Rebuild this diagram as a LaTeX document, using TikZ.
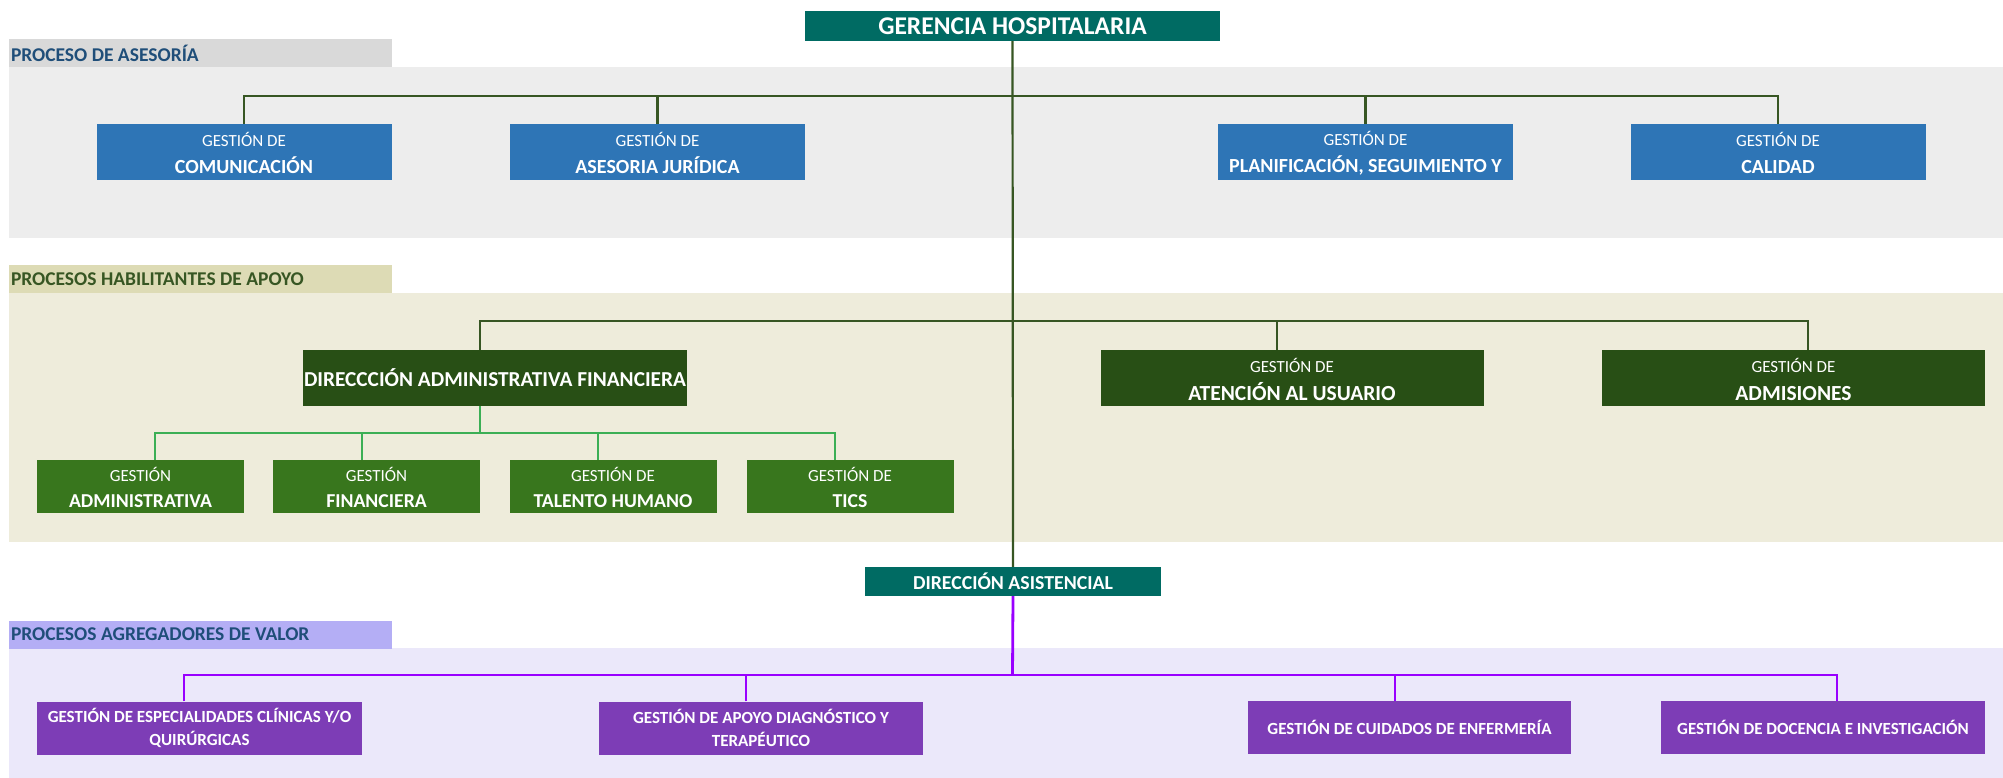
\documentclass[tikz,border=0pt]{standalone}
\usepackage{fontspec}
\setmainfont{Carlito}
\definecolor{tealB}{HTML}{006B63}
\definecolor{blueB}{HTML}{2E75B6}
\definecolor{dgreen}{HTML}{284F15}
\definecolor{mgreen}{HTML}{38761D}
\definecolor{lgline}{HTML}{3BAF55}
\definecolor{trunkC}{HTML}{375623}
\definecolor{violetL}{HTML}{9900FF}
\definecolor{purpB}{HTML}{7D3DB6}
\definecolor{hdrA}{HTML}{D9D9D9}
\definecolor{areaA}{HTML}{EDEDED}
\definecolor{hdrB}{HTML}{DDDBB5}
\definecolor{areaB}{HTML}{EEECDB}
\definecolor{hdrC}{HTML}{B4AEF5}
\definecolor{areaC}{HTML}{EBE8FA}
\definecolor{txtA}{HTML}{1F4E79}
\definecolor{txtB}{HTML}{375623}
\newcommand\twoline[3][20]{\makebox[0pt]{\rule{0pt}{17pt}#2}\\\makebox[0pt]{\fontsize{#1}{#1}\selectfont\bfseries #3}}
\newcommand\purptwo[2]{\makebox[0pt]{#1}\\\makebox[0pt]{#2}}
\tikzset{
  box/.style={rectangle, inner sep=0pt, text=white, align=center},
  gbox/.style={box, font=\fontsize{17}{27}\selectfont},
  bluebox/.style={gbox, fill=blueB, minimum width=295, minimum height=56},
  dgbox/.style={gbox, font=\fontsize{17}{28}\selectfont, fill=dgreen, minimum width=383, minimum height=56},
  mgbox/.style={gbox, font=\fontsize{17}{26}\selectfont, fill=mgreen, minimum width=207, minimum height=53},
  pbox/.style={box, fill=purpB, minimum width=324, minimum height=53, font=\fontsize{17}{23}\selectfont\bfseries},
  hdr/.style={rectangle, inner sep=0pt, minimum width=383, minimum height=28, font=\fontsize{19.5}{19.5}\selectfont\bfseries},
  trunkline/.style={draw=trunkC, line width=2.2pt},
  barA/.style={draw=trunkC, line width=2.4pt},
  barC/.style={draw=lgline, line width=2.4pt},
  barP/.style={draw=violetL, line width=2.8pt},
}
\begin{document}
\begin{tikzpicture}[x=1pt,y=-1pt]
\useasboundingbox (0,0) rectangle (2003,778);
% background areas
\fill[areaA] (9,67) rectangle (2003,238);
\fill[areaB] (9,293) rectangle (2003,542);
\fill[areaC] (9,648) rectangle (2003,778);
% header bands
\node[hdr, fill=hdrA, text=txtA] (hA) at (200.5,53) {\makebox[379pt][l]{PROCESO DE ASESORÍA}};
\node[hdr, fill=hdrB, text=txtB] (hB) at (200.5,279) {\makebox[379pt][l]{PROCESOS HABILITANTES DE APOYO}};
\node[hdr, fill=hdrC, text=txtA] (hC) at (200.5,634.5) {\makebox[379pt][l]{PROCESOS AGREGADORES DE VALOR}};
% top
\node[box, fill=tealB, minimum width=415, minimum height=30, font=\fontsize{25.5}{25.5}\selectfont\bfseries] (ger) at (1012.5,26) {GERENCIA HOSPITALARIA};
% asesoria
\node[bluebox] (com) at (244,152) {\twoline{GESTIÓN DE}{COMUNICACIÓN}};
\node[bluebox] (jur) at (657.5,152) {\twoline{GESTIÓN DE}{ASESORIA JURÍDICA}};
\node[bluebox] (pla) at (1365.5,152) {\twoline{GESTIÓN DE}{PLANIFICACIÓN, SEGUIMIENTO Y}};
\node[bluebox] (cal) at (1778,152) {\twoline{GESTIÓN DE}{CALIDAD}};
% apoyo
\node[dgbox, minimum width=384, font=\fontsize{21.3}{21.3}\selectfont\bfseries] (daf) at (495,378) {\makebox[0pt]{DIRECCCIÓN ADMINISTRATIVA FINANCIERA}};
\node[dgbox] (atn) at (1292,378) {\twoline[21.5]{GESTIÓN DE}{ATENCIÓN AL USUARIO}};
\node[dgbox] (adm) at (1793.5,378) {\twoline[21.5]{GESTIÓN DE}{ADMISIONES}};
\node[mgbox] (gad) at (140.5,486.5) {\twoline[19.7]{GESTIÓN}{ADMINISTRATIVA}};
\node[mgbox] (gfi) at (376.5,486.5) {\twoline[19.7]{GESTIÓN}{FINANCIERA}};
\node[mgbox] (gth) at (613,486.5) {\twoline[19.7]{GESTIÓN DE}{TALENTO HUMANO}};
\node[mgbox] (gti) at (850,486.5) {\twoline[19.7]{GESTIÓN DE}{TICS}};
% asistencial
\node[box, fill=tealB, minimum width=296, minimum height=29, font=\fontsize{19.8}{19.8}\selectfont\bfseries] (das) at (1013,581.5) {DIRECCIÓN ASISTENCIAL};
\node[pbox, minimum width=325] (esp) at (199.5,728) {\purptwo{GESTIÓN DE ESPECIALIDADES CLÍNICAS Y/O}{QUIRÚRGICAS}};
\node[pbox] (apo) at (761,728) {\purptwo{GESTIÓN DE APOYO DIAGNÓSTICO Y}{TERAPÉUTICO}};
\node[pbox, minimum width=323] (cui) at (1409.5,727.5) {GESTIÓN DE CUIDADOS DE ENFERMERÍA};
\node[pbox] (doc) at (1823,727.5) {GESTIÓN DE DOCENCIA E INVESTIGACIÓN};
% bus points
\coordinate (busA) at (1012.5,96);
\coordinate (busB) at (1012.5,321);
\coordinate (busC) at (480,433);
\coordinate (busP) at (1012.5,675);
% connectors
\draw[barA] (com.north) |- (busA) -| (cal.north);
\draw[barA] (jur.north) |- (busA);
\draw[barA] (pla.north) |- (busA);
\draw[barA] ([xshift=-15pt]daf.north) |- (busB) -| ([xshift=14.5pt]adm.north);
\draw[barA] ([xshift=-15pt]atn.north) |- (busB);
\draw[barC] ([xshift=-15pt]daf.south) -- (busC);
\draw[barC] ([xshift=14.5pt]gad.north) |- (busC) -| ([xshift=-15pt]gti.north);
\draw[barC] ([xshift=-14.5pt]gfi.north) |- (busC);
\draw[barC] ([xshift=-15pt]gth.north) |- (busC);
\draw[trunkline] (ger.south) -- (das.north);
\draw[barP] (das.south) -- (busP);
\draw[barP] ([xshift=-15.5pt]esp.north) |- (busP) -| ([xshift=14pt]doc.north);
\draw[barP] ([xshift=-15pt]apo.north) |- (busP);
\draw[barP] ([xshift=-14.5pt]cui.north) |- (busP);
\end{tikzpicture}
\end{document}
